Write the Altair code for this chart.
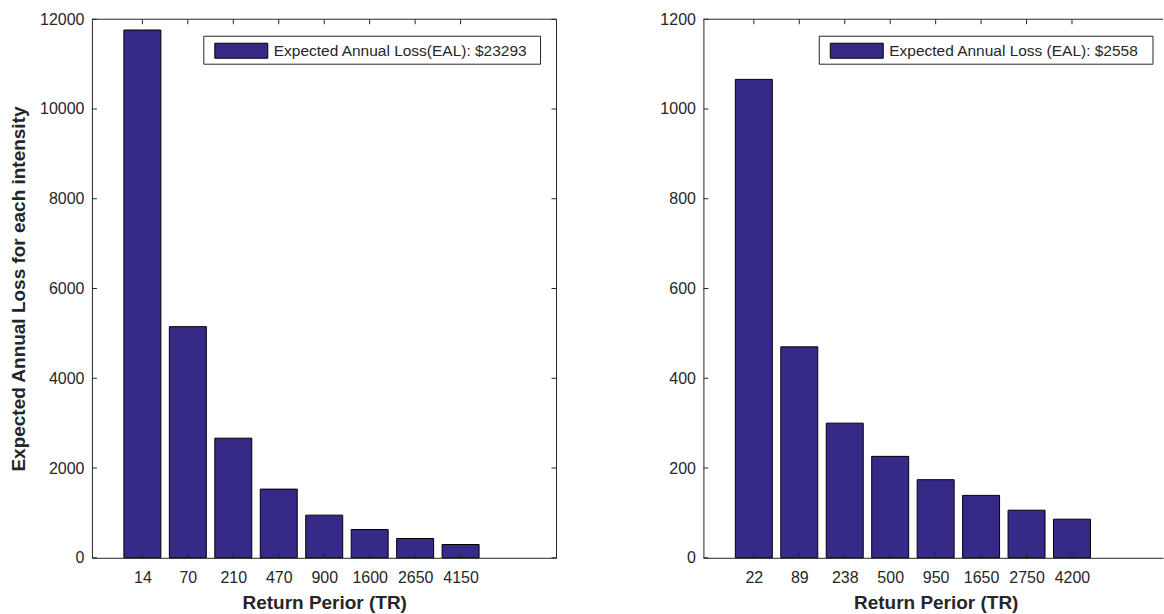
import json
import altair as alt
import pandas as pd

# Return periods (TR) and expected annual loss per intensity, two structures
tr_left = ["14", "70", "210", "470", "900", "1600", "2650", "4150"]
loss_left = [11760, 5150, 2665, 1530, 950, 630, 430, 296]
tr_right = ["22", "89", "238", "500", "950", "1650", "2750", "4200"]
loss_right = [1066, 470, 300, 226, 174, 139, 106, 86]

yticks_left = [0, 2000, 4000, 6000, 8000, 10000, 12000]
yticks_right = [0, 200, 400, 600, 800, 1000, 1200]

legend_left = "Expected Annual Loss(EAL): $23293"
legend_right = "Expected Annual Loss (EAL): $2558"

x_title = "Return Perior (TR)"
y_title = "Expected Annual Loss for each intensity"

FONT = "Liberation Sans"
INK = "#262626"
BAR = "#352a87"
H = 539
FULL_W = 465
STEP = 46.5  # pixels per category slot


def panel(tr, loss, yticks, width, legend_text, box, ytitle, right_ticks, anchor):
    pos = list(range(1, len(tr) + 1))
    df = pd.DataFrame({"pos": pos, "loss": loss})
    ticks_x = pd.DataFrame({"pos": pos})
    ticks_y = pd.DataFrame({"v": yticks})
    one = pd.DataFrame({"k": [0]})

    xscale = alt.Scale(domain=[0, width / STEP], nice=False, zero=False)
    yscale = alt.Scale(domain=[0, yticks[-1]], nice=False)

    x_axis = alt.Axis(
        values=pos,
        labelExpr=json.dumps(tr) + "[datum.value - 1]",
        title=x_title,
        titleX=FULL_W / 2,
        titleAlign="center",
        ticks=False,
        grid=False,
        labelPadding=12,
        titlePadding=8,
    )
    y_axis = alt.Axis(
        values=yticks,
        format="d",
        title=ytitle if ytitle else None,
        ticks=False,
        grid=False,
        labelPadding=8,
        titlePadding=11,
    )

    bars = alt.Chart(df).mark_bar(
        size=37, fill=BAR, stroke="black", strokeWidth=1
    ).encode(
        x=alt.X("pos:Q", scale=xscale, axis=x_axis),
        y=alt.Y("loss:Q", scale=yscale, axis=y_axis),
    )

    top_line = alt.Chart(one).mark_rule(color=INK, strokeWidth=1).encode(
        x=alt.value(0), x2=alt.value(width), y=alt.value(0)
    )

    top_ticks = alt.Chart(ticks_x).mark_rule(color=INK).encode(
        x=alt.X("pos:Q", scale=xscale), y=alt.value(0), y2=alt.value(5)
    )
    bottom_ticks = alt.Chart(ticks_x).mark_rule(color=INK).encode(
        x=alt.X("pos:Q", scale=xscale), y=alt.value(H - 5), y2=alt.value(H)
    )
    left_ticks = alt.Chart(ticks_y).mark_rule(color=INK).encode(
        y=alt.Y("v:Q", scale=yscale), x=alt.value(0), x2=alt.value(5)
    )

    bx0, bx1, px0, px1, tx = box
    legend_box = alt.Chart(one).mark_rect(
        fill="white", stroke=INK, strokeWidth=1
    ).encode(
        x=alt.value(bx0), x2=alt.value(bx1), y=alt.value(17), y2=alt.value(45)
    )
    legend_patch = alt.Chart(one).mark_rect(
        fill=BAR, stroke="black", strokeWidth=1
    ).encode(
        x=alt.value(px0), x2=alt.value(px1), y=alt.value(24), y2=alt.value(39)
    )
    legend_label = alt.Chart(one).mark_text(
        align="left", baseline="middle", font=FONT, fontSize=15.5, color=INK
    ).encode(x=alt.value(tx), y=alt.value(32), text=alt.value(legend_text))

    layers = [bars, top_line, top_ticks, bottom_ticks, left_ticks,
              legend_box, legend_patch, legend_label]

    if right_ticks:
        right_line = alt.Chart(one).mark_rule(color=INK, strokeWidth=1).encode(
            x=alt.value(width), y=alt.value(0), y2=alt.value(H)
        )
        right_tk = alt.Chart(ticks_y).mark_rule(color=INK).encode(
            y=alt.Y("v:Q", scale=yscale), x=alt.value(width - 5), x2=alt.value(width)
        )
        layers += [right_line, right_tk]

    if anchor:
        # invisible corner box that fixes where the page origin falls
        pin = alt.Chart(one).mark_rect(opacity=0).encode(
            x=alt.value(-92), x2=alt.value(-88), y=alt.value(-19), y2=alt.value(-15)
        )
        layers.append(pin)

    return alt.layer(*layers).properties(width=width, height=H)


left = panel(tr_left, loss_left, yticks_left, FULL_W, legend_left,
             (112, 449, 123, 176, 182), y_title, True, True)
right = panel(tr_right, loss_right, yticks_right, 460, legend_right,
              (116, 450, 127, 180, 186), None, False, False)

chart = alt.hconcat(left, right, spacing=147, bounds="flush").properties(
    padding={"left": 0, "top": 0, "right": 0, "bottom": 0},
    background="white",
).configure_view(stroke=None).configure_axis(
    labelFont=FONT,
    labelFontSize=16,
    labelColor=INK,
    titleFont=FONT,
    titleFontSize=19,
    titleFontWeight="bold",
    titleColor=INK,
    domainColor=INK,
    domainWidth=1,
)

chart.save("out.html", embed_options={"renderer": "svg", "actions": False})
